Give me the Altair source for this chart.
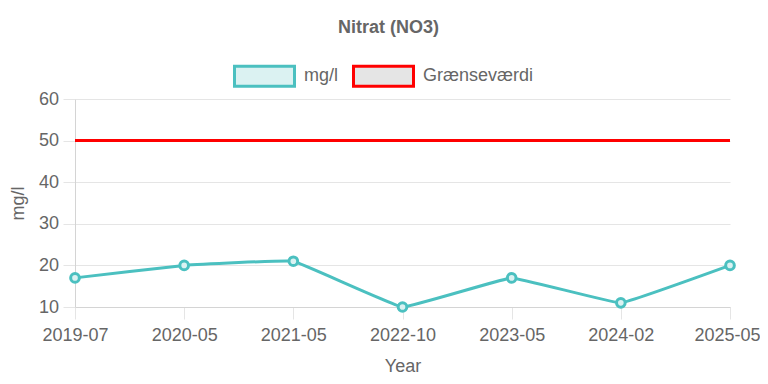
import altair as alt
import pandas as pd

dates = ["2019-07", "2020-05", "2021-05", "2022-10", "2023-05", "2024-02", "2025-05"]
nitrate = [17, 20, 21, 10, 17, 11, 20]
limit = [50, 50, 50, 50, 50, 50, 50]
series_names = ["mg/l", "Grænseværdi"]
line_colors = ["#4bc0c0", "#ff0000"]
fill_colors = ["#dbf2f2", "#e5e5e5"]
y_ticks = [10, 20, 30, 40, 50, 60]

df = pd.DataFrame({
    "date": dates + dates,
    "value": nitrate + limit,
    "series": [series_names[0]] * len(dates) + [series_names[1]] * len(dates),
})

legend = alt.Legend(
    title=None, orient="none", legendX=158, legendY=-54.5, direction="horizontal",
    symbolType="M-1,-0.3333L1,-0.3333L1,0.3333L-1,0.3333Z", symbolSize=3600,
    symbolStrokeWidth=3, symbolOpacity=1, labelFontSize=18, labelColor="#666",
    labelOffset=8, columnPadding=8, labelFont="Liberation Sans",
)

x = alt.X("date:N", sort=dates, scale=alt.Scale(type="point", padding=0),
          axis=alt.Axis(title="Year", labelAngle=0, labelPadding=7,
                        labelOffset={"condition": {"test": f"datum.value === '{dates[-1]}'", "value": -3},
                                     "value": 0},
                        titleX=327.5, titleY=59, titleBaseline="middle"))
y = alt.Y("value:Q", scale=alt.Scale(domain=[10, 60], nice=False, zero=False),
          axis=alt.Axis(title="mg/l", values=y_ticks, labelPadding=4.5,
                        titleX=-57, titleY=104, titleAngle=-90,
                        titleAlign="center", titleBaseline="middle"))

stroke = alt.Stroke("series:N", scale=alt.Scale(domain=series_names, range=line_colors), legend=legend)
fill = alt.Fill("series:N", scale=alt.Scale(domain=series_names, range=fill_colors), legend=legend)

lines = alt.Chart(df).mark_line(strokeWidth=3, interpolate="cardinal", tension=0.8).encode(
    x=x, y=y, stroke=stroke)
points = alt.Chart(df).transform_filter(
    alt.datum.series == series_names[0]
).mark_point(filled=True, size=75, strokeWidth=3, opacity=1).encode(x=x, y=y, stroke=stroke, fill=fill)

chart = alt.layer(lines, points).properties(
    width=655, height=208,
    autosize="none",
    padding={"left": 67, "top": 91, "right": 30, "bottom": 69},
    title=alt.Title("Nitrat (NO3)", fontSize=18, fontWeight="bold", color="#666",
                    font="Liberation Sans", anchor="middle", frame="group", dx=-14, offset=8),
).configure_axis(
    gridColor="#e5e5e5", tickColor="#e5e5e5", domainColor="#d4d4d4", tickSize=12,
    labelFontSize=18, titleFontSize=18, labelColor="#666", titleColor="#666",
    titleFontWeight="normal", labelFont="Liberation Sans", titleFont="Liberation Sans",
).configure_view(stroke=None)

chart.save("out.html", embed_options={"renderer": "svg", "actions": False})
